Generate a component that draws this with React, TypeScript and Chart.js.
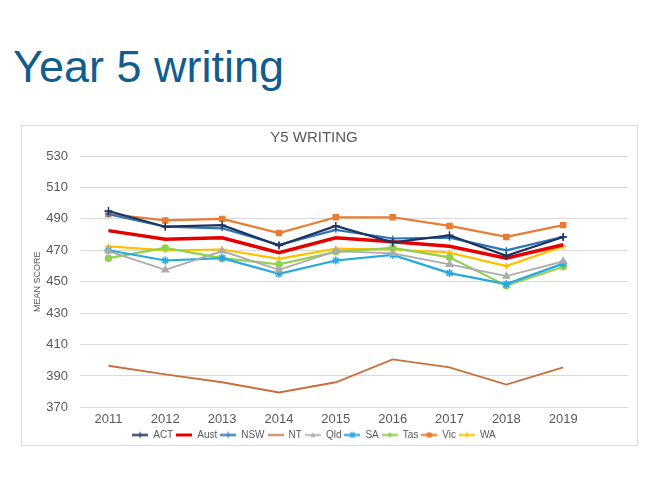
import React, { useEffect, useRef } from "react";
import { Chart, registerables } from "chart.js";

Chart.register(...registerables);

const years = [2011, 2012, 2013, 2014, 2015, 2016, 2017, 2018, 2019];
const ACT = [495, 485, 486, 473, 485.5, 475, 479.5, 466.5, 478.5];
const Aust = [482.5, 477, 478, 468.5, 478, 475.5, 472.5, 465, 473.5];
const NSW = [493, 485, 484, 473.5, 483, 477.5, 478, 470, 478.5];
const NT = [396.5, 391, 386, 379.5, 386, 400.5, 395.5, 384.5, 395.5];
const Qld = [469.5, 457.5, 469.5, 457.5, 469.5, 468, 461, 453.5, 463];
const SA = [470, 463.5, 465, 455, 463.5, 467, 455.5, 448.5, 461.5];
const Tas = [465, 471.5, 465, 461, 469, 471.5, 465.5, 447.5, 459.5];
const Vic = [493, 489, 490, 481, 491, 491, 485.5, 478.5, 486];
const WA = [472.5, 470, 470.5, 464.5, 471, 470.5, 468.5, 460, 472.5];
const yTicks = [370, 390, 410, 430, 450, 470, 490, 510, 530];

type Series = {
  name: string;
  values: number[];
  color: string;
  width: number;
  marker: string | false;
  radius: number;
};

const series: Series[] = [
  { name: "ACT", values: ACT, color: "#1C3461", width: 2.2, marker: "cross", radius: 4 },
  { name: "Aust", values: Aust, color: "#E50000", width: 3.5, marker: false, radius: 0 },
  { name: "NSW", values: NSW, color: "#2E75B6", width: 2.2, marker: "cross", radius: 3 },
  { name: "NT", values: NT, color: "#C8703C", width: 1.8, marker: false, radius: 0 },
  { name: "Qld", values: Qld, color: "#ABABAB", width: 1.8, marker: "triangle", radius: 3.5 },
  { name: "SA", values: SA, color: "#25A9E0", width: 2.2, marker: "star", radius: 4 },
  { name: "Tas", values: Tas, color: "#92D050", width: 2.2, marker: "circle", radius: 3 },
  { name: "Vic", values: Vic, color: "#E97C30", width: 2.2, marker: "rect", radius: 3.5 },
  { name: "WA", values: WA, color: "#FFC000", width: 2.2, marker: "cross", radius: 3 },
];

const FONT = "'Liberation Sans', Arial, sans-serif";

function legendImage(s: Series): HTMLCanvasElement {
  const c = document.createElement("canvas");
  c.width = 16;
  c.height = 9;
  const ctx = c.getContext("2d")!;
  ctx.strokeStyle = s.color;
  ctx.fillStyle = s.color;
  ctx.lineWidth = Math.min(s.width, 3);
  ctx.beginPath();
  ctx.moveTo(0, 4.5);
  ctx.lineTo(16, 4.5);
  ctx.stroke();
  const cx = 8, cy = 4.5;
  ctx.lineWidth = 1.2;
  if (s.marker === "cross") {
    ctx.beginPath();
    ctx.moveTo(cx, cy - 3);
    ctx.lineTo(cx, cy + 3);
    ctx.stroke();
  } else if (s.marker === "circle") {
    ctx.beginPath();
    ctx.arc(cx, cy, 2.2, 0, Math.PI * 2);
    ctx.fill();
  } else if (s.marker === "rect") {
    ctx.fillRect(cx - 2.5, cy - 2.5, 5, 5);
  } else if (s.marker === "triangle") {
    ctx.beginPath();
    ctx.moveTo(cx, cy - 2.5);
    ctx.lineTo(cx + 2.5, cy + 2);
    ctx.lineTo(cx - 2.5, cy + 2);
    ctx.closePath();
    ctx.fill();
  } else if (s.marker === "star") {
    ctx.beginPath();
    ctx.moveTo(cx - 2.5, cy - 2.5);
    ctx.lineTo(cx + 2.5, cy + 2.5);
    ctx.moveTo(cx + 2.5, cy - 2.5);
    ctx.lineTo(cx - 2.5, cy + 2.5);
    ctx.moveTo(cx, cy - 3);
    ctx.lineTo(cx, cy + 3);
    ctx.stroke();
  }
  return c;
}

export default function App() {
  const ref = useRef<HTMLCanvasElement | null>(null);

  useEffect(() => {
    if (!ref.current) return;
    const images = series.map(legendImage);
    const chart = new Chart(ref.current, {
      type: "line",
      data: {
        datasets: series.map((s) => ({
          label: s.name,
          data: years.map((y, i) => ({ x: y, y: s.values[i] })),
          borderColor: s.color,
          backgroundColor: s.color,
          borderWidth: s.width,
          pointStyle: s.marker || "circle",
          pointRadius: s.marker ? s.radius : 0,
          pointBorderColor: s.color,
          pointBackgroundColor: s.color,
          pointBorderWidth: 1.5,
          tension: 0,
        })),
      },
      options: {
        animation: false,
        responsive: false,
        maintainAspectRatio: false,
        layout: { autoPadding: false, padding: { left: 0, right: 0, top: 0, bottom: 3 } },
        scales: {
          x: {
            type: "linear",
            min: 2010.5,
            max: 2020.14,
            afterBuildTicks: (scale: any) => {
              scale.ticks = years.map((v) => ({ value: v }));
            },
            afterFit: (scale: any) => {
              scale.height -= 4;
              scale.paddingLeft = 0;
              scale.paddingRight = 0;
            },
            ticks: {
              autoSkip: false,
              maxRotation: 0,
              padding: 4,
              color: "#595959",
              font: { family: FONT, size: 13 },
              callback: (v: any) => String(v),
            },
            grid: { display: false, drawTicks: false },
            border: { display: false },
          },
          y: {
            min: 370,
            max: 530,
            afterBuildTicks: (scale: any) => {
              scale.ticks = yTicks.map((v) => ({ value: v }));
            },
            afterFit: (scale: any) => {
              scale.width = 80;
            },
            ticks: {
              padding: 12,
              color: "#595959",
              font: { family: FONT, size: 13 },
            },
            grid: { color: "#D9D9D9", lineWidth: 1, drawTicks: false },
            border: { display: false },
            title: {
              display: true,
              text: "MEAN SCORE",
              color: "#595959",
              font: { family: FONT, size: 9 },
              padding: { top: 32, bottom: 4 },
            },
          },
        },
        plugins: {
          title: {
            display: true,
            text: "Y5 WRITING",
            color: "#595959",
            font: { family: FONT, size: 15, weight: "normal" },
            padding: { top: 4, bottom: 9 },
          },
          legend: {
            position: "bottom",
            labels: {
              usePointStyle: true,
              pointStyleWidth: 16,
              padding: 3,
              color: "#595959",
              font: { family: FONT, size: 10 },
              generateLabels: () =>
                series.map((s, i) => ({
                  text: s.name,
                  fillStyle: s.color,
                  strokeStyle: s.color,
                  lineWidth: 0,
                  pointStyle: images[i],
                  hidden: false,
                  datasetIndex: i,
                  fontColor: "#595959",
                })),
            },
          },
          tooltip: { enabled: false },
        },
      } as any,
    });
    return () => chart.destroy();
  }, []);

  return (
    <div style={{ position: "absolute", left: 0, top: 0, width: 650, height: 487, background: "#fff" }}>
      <div
        style={{
          position: "absolute",
          left: 13,
          top: 44,
          fontFamily: FONT,
          fontSize: 45,
          lineHeight: 1,
          color: "#125D8F",
          whiteSpace: "nowrap",
        }}
      >
        Year 5 writing
      </div>
      <div
        style={{
          position: "absolute",
          left: 21,
          top: 125,
          width: 615,
          height: 319,
          border: "1px solid #D9D9D9",
        }}
      />
      <canvas
        ref={ref}
        width={628}
        height={328}
        style={{ position: "absolute", left: 0, top: 125, width: 628, height: 328 }}
      />
    </div>
  );
}
